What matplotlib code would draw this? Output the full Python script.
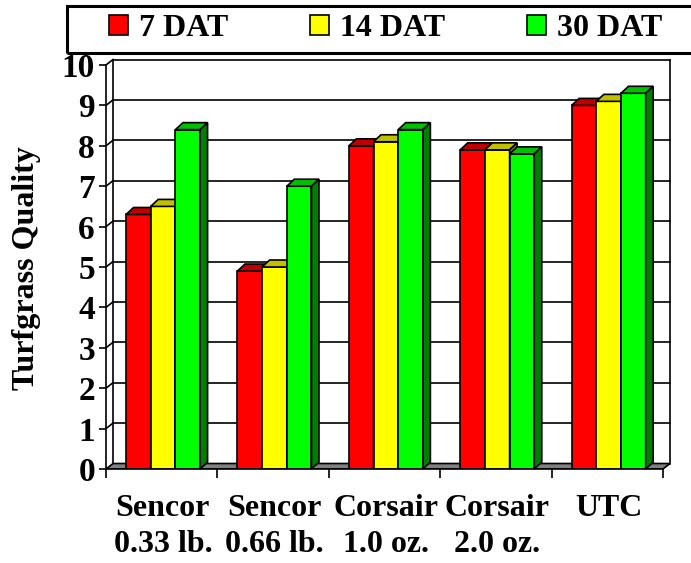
import matplotlib
matplotlib.use('Agg')
import matplotlib.pyplot as plt
from matplotlib.patches import Polygon, Rectangle

plt.rcParams['font.family'] = ['Liberation Serif', 'DejaVu Serif']
plt.rcParams['font.weight'] = 'bold'

# data
categories = ['Sencor\n0.33 lb.', 'Sencor\n0.66 lb.', 'Corsair\n1.0 oz.', 'Corsair\n2.0 oz.', 'UTC']
series_names = ['7 DAT', '14 DAT', '30 DAT']
dat7 = [6.3, 4.9, 8.0, 7.9, 9.0]
dat14 = [6.5, 5.0, 8.1, 7.9, 9.1]
dat30 = [8.4, 7.0, 8.4, 7.8, 9.3]
yticks = list(range(11))

front = ['#ff0000', '#ffff00', '#00ff00']
tops = ['#c00000', '#c0c000', '#00c000']
sides = ['#800000', '#808000', '#008000']

W, H = 691, 563
fig = plt.figure(figsize=(W / 100, H / 100), dpi=100)

# axes box in pixels: front axis x=106, floor y=469, back wall top y=60, right wall x=672
px_x = 111.4   # pixels per category
px_y = 40.4    # pixels per unit
left, right, top, bottom = 106, 672, 60, 469
ax = fig.add_axes([left / W, (H - bottom) / H, (right - left) / W, (bottom - top) / H])
ax.set_xlim(0, (right - left) / px_x)
ax.set_ylim(0, (bottom - top) / px_y)

dx = 7 / px_x      # wall depth
dy = 5.5 / px_y
bdx = 7.5 / px_x   # bar depth
bdy = 7 / px_y
lw = 1.2
n = len(categories)
xmax = n + dx

# back wall + side wall
for k in yticks[1:]:
    ax.plot([dx, xmax], [k + dy, k + dy], color='black', lw=lw, zorder=1, clip_on=False)
    ax.plot([0, dx], [k, k + dy], color='black', lw=lw, zorder=1, clip_on=False)
ax.plot([dx, dx], [dy, 10 + dy], color='black', lw=lw, zorder=1, clip_on=False)
ax.plot([xmax, xmax], [dy, 10 + dy], color='black', lw=lw, zorder=1, clip_on=False)

# floor
ax.add_patch(Polygon([(0, 0), (n, 0), (n + dx, dy), (dx, dy)], closed=True,
                     facecolor='#808080', edgecolor='black', lw=lw, zorder=2))

# bars
bw = 0.2215
x0 = 0.18
for j, vals in enumerate([dat7, dat14, dat30]):
    xs = [i + x0 + j * bw for i in range(n)]
    ax.bar(xs, vals, width=bw, align='edge', color=front[j], edgecolor='black',
           lw=lw, zorder=3 + j, label=series_names[j])
    for x, h in zip(xs, vals):
        ax.add_patch(Polygon([(x, h), (x + bw, h), (x + bw + bdx, h + bdy), (x + bdx, h + bdy)],
                             closed=True, facecolor=tops[j], edgecolor='black', lw=lw,
                             zorder=3 + j, clip_on=False))
        ax.add_patch(Polygon([(x + bw, 0), (x + bw + bdx, bdy), (x + bw + bdx, h + bdy), (x + bw, h)],
                             closed=True, facecolor=sides[j], edgecolor='black', lw=lw,
                             zorder=3 + j, clip_on=False))

# axes lines and ticks
for s in ['top', 'right']:
    ax.spines[s].set_visible(False)
ax.spines['left'].set_bounds(0, 10)
ax.spines['bottom'].set_bounds(0, n)
ax.spines['left'].set_linewidth(lw)
ax.spines['bottom'].set_linewidth(lw)
ax.spines['left'].set_zorder(6)
ax.spines['bottom'].set_zorder(6)
ax.set_yticks(yticks)
ax.tick_params(axis='y', length=5, width=lw, labelsize=24, pad=3)
ax.set_xticks(range(n + 1))
ax.set_xticklabels([''] * (n + 1))
ax.set_xticks([i + 0.51 for i in range(n)], minor=True)
ax.set_xticklabels(categories, minor=True, fontsize=23, fontweight='bold', linespacing=1.3)
ax.tick_params(axis='x', which='major', length=6.5, width=lw)
ax.tick_params(axis='x', which='minor', length=0, pad=18)
for t in ax.get_yticklabels():
    t.set_fontweight('bold')

fig.text(27 / W, 1 - 268 / H, 'Turfgrass Quality', rotation=90, ha='center', va='center',
         fontsize=23, fontweight='bold')

# legend
handles, labels = ax.get_legend_handles_labels()
leg = fig.legend(handles, labels, loc='center left', bbox_to_anchor=(109 / W, 1 - 29 / H),
                 ncol=3, frameon=False, fontsize=23, handlelength=0.6, handleheight=0.6,
                 handletextpad=0.33, columnspacing=2.57, borderpad=0, borderaxespad=0)
for t in leg.get_texts():
    t.set_fontweight('bold')
fig.patches.append(Rectangle((67 / W, 1 - 53 / H), (700 - 67) / W, 47 / H, transform=fig.transFigure,
                             fill=False, edgecolor='black', lw=2.2))

fig.savefig('out.png', dpi=100)
